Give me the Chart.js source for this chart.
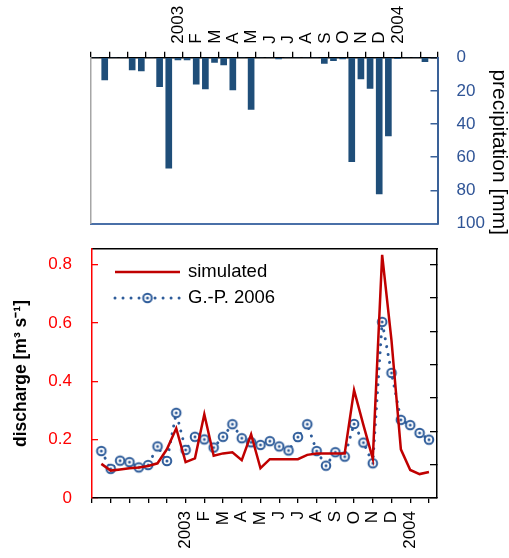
<!DOCTYPE html>
<html>
<head>
<meta charset="utf-8">
<script src="https://cdn.jsdelivr.net/npm/chart.js@4/dist/chart.umd.min.js"></script>
<style>
html,body{margin:0;padding:0;background:#fff;}
#wrap{position:relative;width:509px;height:558px;overflow:hidden;}
#c1{position:absolute;left:0;top:0;}
#c2{position:absolute;left:0;top:236px;}
</style>
</head>
<body>
<div id="wrap">
<canvas id="c1" width="509" height="236"></canvas>
<canvas id="c2" width="509" height="322"></canvas>
</div>
<script>
// ---------------- DATA ----------------
// Month boundaries from 1 Aug 2002 to 1 Feb 2004 (tick labels)
const monthBoundaryLabels = ['', '', '', '', '', '2003', 'F', 'M', 'A', 'M', 'J', 'J', 'A', 'S', 'O', 'N', 'D', '2004', ''];

// Half-month precipitation periods (Aug 2002 - Feb 2004)
const precipPeriods = [
  '2002-08 I','2002-08 II','2002-09 I','2002-09 II','2002-10 I','2002-10 II','2002-11 I','2002-11 II','2002-12 I','2002-12 II',
  '2003-01 I','2003-01 II','2003-02 I','2003-02 II','2003-03 I','2003-03 II','2003-04 I','2003-04 II','2003-05 I','2003-05 II',
  '2003-06 I','2003-06 II','2003-07 I','2003-07 II','2003-08 I','2003-08 II','2003-09 I','2003-09 II','2003-10 I','2003-10 II',
  '2003-11 I','2003-11 II','2003-12 I','2003-12 II','2004-01 I','2004-01 II','2004-02 I','2004-02 II'
];
const precipitation = [
  0, 13.4, 0, 0, 7.4, 8.0, 0, 17.5, 66.7, 1.4,
  1.4, 15.9, 18.9, 2.8, 4.4, 19.5, 0, 31.2, 0, 0,
  0.8, 0, 0, 0, 0, 3.4, 1.8, 0.8, 62.7, 12.8,
  18.5, 82.2, 47.2, 0.6, 0, 0, 2.4, 0
];
const precipTicks = [0, 20, 40, 60, 80, 100];

// Half-month discharge values (end of each half month)
const dischargeDates = [
  '15 Aug 2002','31 Aug 2002','15 Sep 2002','30 Sep 2002','15 Oct 2002','31 Oct 2002','15 Nov 2002','30 Nov 2002','15 Dec 2002','31 Dec 2002',
  '15 Jan 2003','31 Jan 2003','15 Feb 2003','28 Feb 2003','15 Mar 2003','31 Mar 2003','15 Apr 2003','30 Apr 2003','15 May 2003','31 May 2003',
  '15 Jun 2003','30 Jun 2003','15 Jul 2003','31 Jul 2003','15 Aug 2003','31 Aug 2003','15 Sep 2003','30 Sep 2003','15 Oct 2003','31 Oct 2003',
  '15 Nov 2003','30 Nov 2003','15 Dec 2003','31 Dec 2003','15 Jan 2004','31 Jan 2004'
];
const simulated = [
  0.117, 0.094, 0.098, 0.102, 0.105, 0.110, 0.119, 0.167, 0.239, 0.123,
  0.136, 0.287, 0.145, 0.153, 0.157, 0.130, 0.218, 0.102, 0.133, 0.133,
  0.133, 0.133, 0.148, 0.153, 0.153, 0.153, 0.153, 0.370, 0.250, 0.135,
  0.834, 0.540, 0.167, 0.096, 0.082, 0.089
];
const gp2006 = [
  0.161, 0.100, 0.128, 0.123, 0.105, 0.113, 0.177, 0.127, 0.292, 0.165,
  0.210, 0.201, 0.173, 0.210, 0.253, 0.205, 0.191, 0.182, 0.195, 0.177,
  0.163, 0.209, 0.253, 0.161, 0.111, 0.157, 0.142, 0.254, 0.190, 0.119,
  0.604, 0.429, 0.268, 0.250, 0.223, 0.200
];
const dischargeTicks = [0, 0.2, 0.4, 0.6, 0.8];

// ---------------- STYLE ----------------
Chart.defaults.font.family = "'Liberation Sans', Arial, sans-serif";
Chart.defaults.color = '#000';
Chart.defaults.animation = false;

const BAR_BLUE = '#1F4E79';
const AXIS_BLUE = '#3A6198';
const LABEL_BLUE = '#2F5496';
const RED_AXIS = '#FF0000';
const SIM_RED = '#C00000';
const GP_BLUE = '#2E5C9A';

const PRECIP_X_MAX = 37.87;
const DIS_X_MAX = 36.86;
const DIS_Y_MAX = 0.854;

function labelAt(v) {
  const i = v / 2;
  if (Math.abs(i - Math.round(i)) < 1e-6 && monthBoundaryLabels[Math.round(i)] !== undefined) {
    return monthBoundaryLabels[Math.round(i)];
  }
  return '';
}

// fix a scale's box size and drop automatic label padding
function fixSize(prop, size) {
  return s => {
    s[prop] = size;
    s.paddingTop = 0; s.paddingBottom = 0; s.paddingLeft = 0; s.paddingRight = 0;
  };
}

// ---------------- TOP CHART: precipitation ----------------
new Chart(document.getElementById('c1'), {
  type: 'bar',
  data: {
    labels: precipPeriods,
    datasets: [{
      label: 'precipitation',
      data: precipitation.map((v, i) => ({ x: i + 0.5, y: v })),
      backgroundColor: BAR_BLUE,
      borderWidth: 0,
      barThickness: 6,
      xAxisID: 'x',
      yAxisID: 'y'
    }]
  },
  options: {
    responsive: false,
    animation: false,
    layout: { padding: 0, autoPadding: false },
    plugins: { legend: { display: false }, tooltip: { enabled: false } },
    scales: {
      x: {
        type: 'linear', position: 'top', min: 0, max: PRECIP_X_MAX, offset: false,
        afterBuildTicks: s => {
          s.ticks = monthBoundaryLabels.map((l, i) => ({ value: i * 2 })).concat([{ value: PRECIP_X_MAX }]);
        },
        ticks: {
          autoSkip: false, minRotation: 90, maxRotation: 90, padding: 8, labelOffset: 16.4,
          font: { size: 17 }, color: '#000', callback: v => labelAt(v)
        },
        grid: { offset: false, drawOnChartArea: false, drawTicks: true, tickLength: 6, color: '#000', lineWidth: 1.3 },
        border: { display: true, color: '#000', width: 1.5 },
        afterFit: fixSize('height', 57.7)
      },
      xb: {
        type: 'linear', position: 'bottom', min: 0, max: 1,
        ticks: { display: false },
        grid: { drawOnChartArea: false, drawTicks: false },
        border: { display: true, color: '#4A70A8', width: 2 },
        afterFit: fixSize('height', 12.5)
      },
      yl: {
        type: 'linear', position: 'left', min: 0, max: 1,
        ticks: { display: false },
        grid: { drawOnChartArea: false, drawTicks: false },
        border: { display: true, color: '#A6A6A6', width: 1.5 },
        afterFit: fixSize('width', 91)
      },
      y: {
        type: 'linear', position: 'right', reverse: true, min: 0, max: 100,
        afterBuildTicks: s => { s.ticks = precipTicks.map(v => ({ value: v })); },
        ticks: { color: LABEL_BLUE, font: { size: 17 }, padding: 26, callback: v => String(v) },
        grid: { drawOnChartArea: false, drawTicks: true, tickLength: -7, color: AXIS_BLUE, lineWidth: 1.5 },
        border: { display: true, color: AXIS_BLUE, width: 2 },
        title: { display: true, text: '    precipitation [mm]', font: { size: 21, lineHeight: 1 }, color: '#000', padding: 0 },
        afterFit: fixSize('width', 71.5)
      }
    }
  }
});

// ---------------- BOTTOM CHART: discharge ----------------
function ringMarker(color) {
  const c = document.createElement('canvas');
  c.width = 14; c.height = 14;
  const g = c.getContext('2d');
  g.fillStyle = '#fff';
  g.strokeStyle = color;
  g.lineWidth = 2;
  g.beginPath(); g.arc(7, 7, 4.3, 0, Math.PI * 2); g.fill(); g.stroke();
  g.fillStyle = color;
  g.beginPath(); g.arc(7, 7, 1.5, 0, Math.PI * 2); g.fill();
  return c;
}
const gpMarker = ringMarker(GP_BLUE);

const insideLegend = {
  id: 'insideLegend',
  afterDraw(chart) {
    const ctx = chart.ctx;
    const rows = [36, 62];
    const x0 = 115, x1 = 180, tx = 188;
    chart.data.datasets.forEach((d, i) => {
      const y = rows[i];
      ctx.save();
      ctx.strokeStyle = d.borderColor;
      ctx.lineWidth = d.borderWidth;
      ctx.lineCap = d.borderCapStyle || 'butt';
      ctx.setLineDash(d.borderDash || []);
      ctx.beginPath(); ctx.moveTo(x0, y); ctx.lineTo(x1, y); ctx.stroke();
      ctx.setLineDash([]);
      if (d.pointStyle && d.pointRadius > 0) {
        const img = d.pointStyle;
        ctx.drawImage(img, (x0 + x1) / 2 - img.width / 2, y - img.height / 2);
      }
      ctx.fillStyle = '#000';
      ctx.font = "18.5px 'Liberation Sans', Arial, sans-serif";
      ctx.textBaseline = 'middle';
      ctx.textAlign = 'left';
      ctx.fillText(d.label, tx, y);
      ctx.restore();
    });
  }
};

new Chart(document.getElementById('c2'), {
  type: 'line',
  data: {
    datasets: [
      {
        label: 'simulated',
        data: simulated.map((v, i) => ({ x: i + 1, y: v })),
        borderColor: SIM_RED,
        borderWidth: 2.5,
        pointRadius: 0,
        tension: 0,
        fill: false,
        xAxisID: 'x', yAxisID: 'y'
      },
      {
        label: 'G.-P. 2006',
        data: gp2006.map((v, i) => ({ x: i + 1, y: v })),
        borderColor: GP_BLUE,
        borderWidth: 3,
        borderDash: [0.01, 8],
        borderCapStyle: 'round',
        pointStyle: gpMarker,
        pointRadius: 5,
        tension: 0,
        fill: false,
        xAxisID: 'x', yAxisID: 'y'
      }
    ]
  },
  options: {
    responsive: false,
    animation: false,
    layout: { padding: 0, autoPadding: false },
    plugins: { legend: { display: false }, tooltip: { enabled: false } },
    scales: {
      x: {
        type: 'linear', position: 'bottom', min: 0, max: DIS_X_MAX, offset: false,
        afterBuildTicks: s => { s.ticks = monthBoundaryLabels.map((l, i) => ({ value: i * 2 })); },
        ticks: {
          autoSkip: false, minRotation: 90, maxRotation: 90, padding: 8,
          font: { size: 17 }, color: '#000', callback: v => labelAt(v)
        },
        grid: { drawOnChartArea: false, drawTicks: true, tickLength: 5, color: '#000', lineWidth: 1.3 },
        border: { display: true, color: '#000', width: 1.5 },
        afterFit: fixSize('height', 60)
      },
      xt: {
        type: 'linear', position: 'top', min: 0, max: 1,
        ticks: { display: false },
        grid: { drawOnChartArea: false, drawTicks: false },
        border: { display: true, color: '#000', width: 1.5 },
        afterFit: fixSize('height', 13)
      },
      y: {
        type: 'linear', position: 'left', min: 0, max: DIS_Y_MAX,
        afterBuildTicks: s => { s.ticks = dischargeTicks.map(v => ({ value: v })); },
        ticks: { color: RED_AXIS, font: { size: 17 }, padding: 26, callback: v => (v === 0 ? '0' : v.toFixed(1)) },
        grid: { drawOnChartArea: false, drawTicks: true, tickLength: -6, color: RED_AXIS, lineWidth: 1.3 },
        border: { display: true, color: RED_AXIS, width: 1.5 },
        title: { display: true, text: 'discharge [m³ s⁻¹]', font: { size: 17.5, weight: 'bold', lineHeight: 1 }, color: '#000', padding: { top: 12, bottom: 0 } },
        afterFit: fixSize('width', 92)
      },
      y2: {
        type: 'linear', position: 'right', min: 0, max: DIS_Y_MAX,
        afterBuildTicks: s => {
          const t = [];
          for (let i = 0; i <= 7; i++) t.push({ value: 0.8 * i / 7 });
          s.ticks = t;
        },
        ticks: { display: false },
        grid: { drawOnChartArea: false, drawTicks: true, tickLength: -7, color: '#000', lineWidth: 1.3 },
        border: { display: true, color: '#000', width: 1.5 },
        afterFit: fixSize('width', 72)
      }
    }
  },
  plugins: [insideLegend]
});
</script>
</body>
</html>
